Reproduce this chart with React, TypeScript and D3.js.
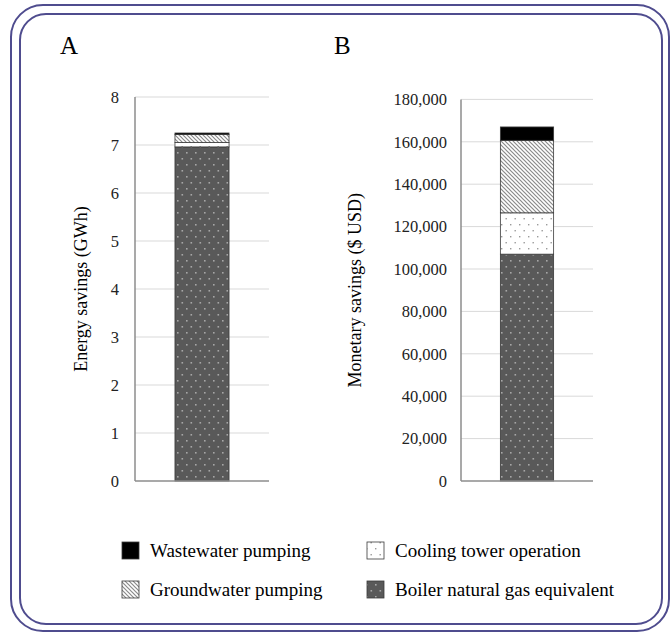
import React from "react";
import * as d3 from "d3";

const W = 671;
const H = 633;

const series = ["Boiler natural gas equivalent", "Cooling tower operation", "Groundwater pumping", "Wastewater pumping"];
const energyValues = [6.96, 0.09, 0.17, 0.03];
const moneyValues = [107000, 19500, 34200, 6300];
const energyTicks = [0, 1, 2, 3, 4, 5, 6, 7, 8];
const moneyTicks = [0, 20000, 40000, 60000, 80000, 100000, 120000, 140000, 160000, 180000];
const legendOrder = [
  ["Wastewater pumping", "Cooling tower operation"],
  ["Groundwater pumping", "Boiler natural gas equivalent"],
];

const FILL: Record<string, string> = {
  "Boiler natural gas equivalent": "url(#pBoiler)",
  "Cooling tower operation": "url(#pCool)",
  "Groundwater pumping": "url(#pGround)",
  "Wastewater pumping": "#000000",
};

const FONT = "Liberation Serif, DejaVu Serif, serif";

function Panel({ x0, x1, yTop, yBottom, values, ticks, fmt, title, titleX, letter, letterX, labelX }: any) {
  const y = d3.scaleLinear().domain([0, ticks[ticks.length - 1]]).range([yBottom, yTop]);
  const xb = d3.scaleBand().domain(["bar"]).range([x0, x1]).padding(0.425);
  const stackData = [Object.fromEntries(series.map((s, i) => [s, values[i]]))];
  const stacked = d3.stack().keys(series)(stackData as any);
  return (
    <g>
      <text x={letterX} y={54} style={{ fontFamily: FONT }} fontSize={25} fill="#000">{letter}</text>
      {ticks.map((t: number) => (
        <g key={t}>
          {t > 0 && <line x1={x0} x2={x1} y1={y(t)} y2={y(t)} stroke="#d9d9d9" strokeWidth={1} />}
          <text x={labelX} y={y(t)} dy="0.35em" textAnchor="end" style={{ fontFamily: FONT }} fontSize={16.5} fill="#222">{fmt(t)}</text>
        </g>
      ))}
      {stacked.map((layer: any) => (
        <rect key={layer.key}
          x={xb("bar")} width={xb.bandwidth()}
          y={y(layer[0][1])} height={y(layer[0][0]) - y(layer[0][1])}
          fill={FILL[layer.key]} stroke="#3a3a3a" strokeWidth={0.8} />
      ))}
      <line x1={x0} x2={x0} y1={yTop} y2={yBottom} stroke="#8c8c8c" strokeWidth={1.5} />
      <line x1={x0} x2={x1} y1={yBottom} y2={yBottom} stroke="#8c8c8c" strokeWidth={1.5} />
      <text transform={`translate(${titleX},${(yTop + yBottom) / 2}) rotate(-90)`} textAnchor="middle" style={{ fontFamily: FONT }} fontSize={18} fill="#000">{title}</text>
    </g>
  );
}

export default function App() {
  const legX = [122, 367];
  const legTextX = [150, 395];
  const legY = [550, 589];
  return (
    <div style={{ position: "fixed", left: 0, top: 0 }}>
      <svg width={W} height={H} style={{ display: "block", background: "#fff" }}>
        <defs>
          <pattern id="pBoiler" patternUnits="userSpaceOnUse" width={9} height={12}>
            <rect width={9} height={12} fill="#595959" />
            <rect x={1.5} y={2} width={1.6} height={1.6} fill="#a6a6a6" />
            <rect x={6} y={8} width={1.6} height={1.6} fill="#a6a6a6" />
          </pattern>
          <pattern id="pCool" patternUnits="userSpaceOnUse" width={9} height={12}>
            <rect width={9} height={12} fill="#ffffff" />
            <rect x={1.5} y={2} width={1.4} height={1.4} fill="#9a9a9a" />
            <rect x={6} y={8} width={1.4} height={1.4} fill="#9a9a9a" />
          </pattern>
          <pattern id="pGround" patternUnits="userSpaceOnUse" width={4} height={4}>
            <rect width={4} height={4} fill="#ffffff" />
            <path d="M-1,-1 L5,5 M-1,3 L1,5 M3,-1 L5,1" stroke="#8a8a8a" strokeWidth={1.2} />
          </pattern>
        </defs>
        <rect x={11} y={5} width={658} height={626} rx={32} ry={32} fill="none" stroke="#4f4c8e" strokeWidth={2} />
        <rect x={20} y={14} width={642} height={610} rx={26} ry={26} fill="none" stroke="#4f4c8e" strokeWidth={2} />
        <Panel x0={135} x1={269} yTop={97} yBottom={481} values={energyValues} ticks={energyTicks}
          fmt={(t: number) => String(t)} title="Energy savings (GWh)" titleX={87} letter="A" letterX={60} labelX={119} />
        <Panel x0={461} x1={593} yTop={99.4} yBottom={481} values={moneyValues} ticks={moneyTicks}
          fmt={d3.format(",")} title="Monetary savings ($ USD)" titleX={361} letter="B" letterX={334} labelX={447} />
        {legendOrder.map((row, ri) =>
          row.map((name, ci) => (
            <g key={name}>
              <rect x={legX[ci]} y={legY[ri] - 8} width={17} height={17} fill={FILL[name]} stroke="#3a3a3a" strokeWidth={0.8} />
              <text x={legTextX[ci]} y={legY[ri]} dy="0.35em" style={{ fontFamily: FONT }} fontSize={19} fill="#000">{name}</text>
            </g>
          ))
        )}
      </svg>
    </div>
  );
}
